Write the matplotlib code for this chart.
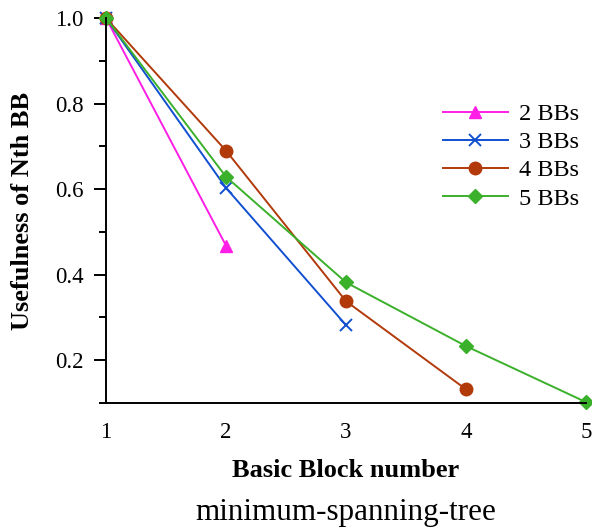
import matplotlib
matplotlib.use('Agg')
import matplotlib.pyplot as plt
from matplotlib.ticker import MultipleLocator

plt.rcParams.update({'font.family': 'Liberation Serif'})

# data
x_2bb = [1, 2]
y_2bb = [1.0, 0.468]
x_3bb = [1, 2, 3]
y_3bb = [1.0, 0.603, 0.282]
x_4bb = [1, 2, 3, 4]
y_4bb = [1.0, 0.690, 0.338, 0.132]
x_5bb = [1, 2, 3, 4, 5]
y_5bb = [1.0, 0.629, 0.382, 0.233, 0.102]

fig = plt.figure(figsize=(5.92, 5.31), dpi=100)
ax = fig.add_axes([0.179, 0.241, 0.811, 0.725])

ax.plot(x_2bb, y_2bb, color='#FF1EE6', marker='^', markersize=8.5, lw=1.4, label='2 BBs')
ax.plot(x_3bb, y_3bb, color='#1150D0', marker='x', markersize=9, mew=1.4, lw=1.4, label='3 BBs')
ax.plot(x_4bb, y_4bb, color='#B23A0A', marker='o', markersize=9, lw=1.4, label='4 BBs')
ax.plot(x_5bb, y_5bb, color='#3BB02A', marker='D', markersize=7, lw=1.4, label='5 BBs')

ax.set_xlim(1, 5)
ax.set_ylim(0.1, 1.0)
ax.set_xticks([1, 2, 3, 4, 5])
ax.yaxis.set_minor_locator(MultipleLocator(0.1))
ax.set_yticks([0.2, 0.4, 0.6, 0.8, 1.0])
ax.set_yticklabels(['0.2', '0.4', '0.6', '0.8', '1.0'])

for s in ['top', 'right']:
    ax.spines[s].set_visible(False)
for s in ['left', 'bottom']:
    ax.spines[s].set_linewidth(1.4)
ax.tick_params(axis='x', length=0, pad=14, labelsize=16.5)
ax.tick_params(axis='y', which='major', length=9, width=1.4, labelsize=16.5, pad=7)
ax.tick_params(axis='y', which='minor', length=5, width=1.4)
for line in ax.get_lines():
    line.set_clip_on(False)

ax.set_xlabel('Basic Block number', fontsize=19, fontweight='bold', labelpad=11)
ax.set_ylabel('Usefulness of Nth BB', fontsize=19, fontweight='bold', labelpad=15)
# title sits under the x label, centred on the axes
fig.text(0.5845, 0.034, 'minimum-spanning-tree', ha='center', va='center', fontsize=22.4)

ax.legend(loc='upper left', bbox_to_anchor=(0.681, 0.804), frameon=False,
          fontsize=17.5, handlelength=2.7, labelspacing=0.25, handletextpad=0.45,
          borderaxespad=0)

fig.savefig('out.png', dpi=100)
